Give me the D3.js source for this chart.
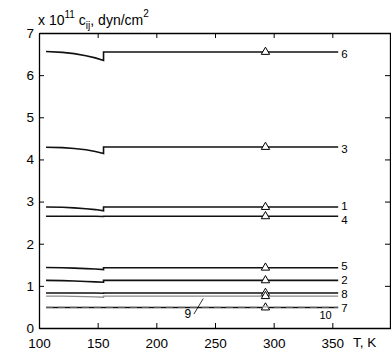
<!DOCTYPE html>
<html>
<head>
<meta charset="utf-8">
<script src="https://cdn.jsdelivr.net/npm/d3@7"></script>
<style>
  body { margin: 0; background: #fff; }
  svg { display: block; font-family: "Liberation Sans", Arial, sans-serif; }
</style>
</head>
<body>
<main></main>
<script>
// temperatures (K) below and above the jump at ~155 K
const tLow = [106, 120, 130, 140, 148, 155];
const tHigh = [155, 355];
const tMark = 293;

// c_ij values, x 10^11 dyn/cm^2
const names = ["6", "3", "1", "4", "5", "2", "8", "9", "7", "10"];
const lowVals = [
  [6.56, 6.54, 6.51, 6.46, 6.41, 6.35],
  [4.29, 4.28, 4.26, 4.23, 4.19, 4.14],
  [2.87, 2.865, 2.85, 2.83, 2.81, 2.78],
  [2.65, 2.65, 2.65, 2.65, 2.65, 2.645],
  [1.435, 1.43, 1.42, 1.41, 1.40, 1.385],
  [1.13, 1.125, 1.115, 1.105, 1.095, 1.085],
  [0.83, 0.83, 0.83, 0.83, 0.83, 0.825],
  [0.755, 0.755, 0.75, 0.745, 0.74, 0.73],
  [0.485, 0.485, 0.485, 0.485, 0.485, 0.485],
  [0.5, 0.5, 0.5, 0.5, 0.5, 0.5]
];
const highVals = [6.55, 4.295, 2.87, 2.65, 1.43, 1.13, 0.83, 0.755, 0.485, 0.5];
const hasMark = [true, true, true, true, true, true, true, true, true, false];
const labelShift = [2, 1.5, -1, 4, -2, -0.5, 0.5, 0, 0.5, 0];

const xTicks = [100, 150, 200, 250, 300, 350];
const yTicks = [0, 1, 2, 3, 4, 5, 6, 7];

const svgSize = { width: 391, height: 353 };
const fontFam = "'Liberation Sans', Arial, sans-serif";

const svg = d3.select("main")
  .append("svg")
  .attr("width", svgSize.width)
  .attr("height", svgSize.height)
  .attr("font-family", fontFam);

const xScale = d3.scaleLinear().domain([100, 400]).range([39, 391]);
const yScale = d3.scaleLinear().domain([0, 7]).range([328, 33]);

// axes, MATLAB style ticks pointing inward
const gx = svg.append("g")
  .attr("transform", "translate(0,328)")
  .call(d3.axisBottom(xScale).tickValues(xTicks).tickSizeInner(-5).tickSizeOuter(0).tickPadding(10));
const gxTop = svg.append("g")
  .attr("transform", "translate(0,33)")
  .call(d3.axisTop(xScale).tickValues(xTicks).tickSizeInner(-5).tickSizeOuter(0).tickFormat(""));
const gy = svg.append("g")
  .attr("transform", "translate(39,0)")
  .call(d3.axisLeft(yScale).tickValues(yTicks).tickSizeInner(-5).tickSizeOuter(0).tickPadding(5).tickFormat(d3.format("d")));
const gyRight = svg.append("g")
  .attr("transform", "translate(390,0)")
  .call(d3.axisRight(yScale).tickValues(yTicks).tickSizeInner(-5).tickSizeOuter(0).tickFormat(""));

[gx, gxTop, gy, gyRight].forEach(g => {
  g.attr("font-family", fontFam);
  g.select(".domain").attr("stroke", "#000").attr("stroke-width", 1.3);
  g.selectAll(".tick line").attr("stroke", "#000");
  g.selectAll("text").attr("font-size", 13.5).attr("fill", "#000");
});
gxTop.selectAll(".tick").filter(d => d === 100).remove();
gyRight.selectAll(".tick").filter(d => d === 0 || d === 7).remove();

// axis titles
svg.append("text")
  .attr("x", 353).attr("y", 347)
  .attr("font-size", 13.5)
  .text("T, K");

const title = svg.append("text").attr("x", 38).attr("y", 25).attr("font-size", 14);
title.append("tspan").text("x 10");
title.append("tspan").attr("font-size", 10).attr("dy", -7).text("11");
title.append("tspan").attr("dy", 7).attr("dx", 4).text("c");
title.append("tspan").attr("font-size", 10).attr("dy", 4).text("ij");
title.append("tspan").attr("dy", -4).text(", dyn/cm");
title.append("tspan").attr("font-size", 10).attr("dy", -8).text("2");

const line = d3.line()
  .x(d => xScale(d[0]))
  .y(d => yScale(d[1]));

names.forEach((name, i) => {
  const low = tLow.map((t, j) => [t, lowVals[i][j]]);
  const high = tHigh.map(t => [t, highVals[i]]);
  const pts = low.concat(high);
  const isGray = name === "9";
  const isDash = name === "10";
  svg.append("path")
    .datum(pts)
    .attr("d", line)
    .attr("fill", "none")
    .attr("stroke", isDash ? "#aaa" : (isGray ? "#8a8a8a" : "#111"))
    .attr("stroke-width", isDash ? 1.2 : (isGray ? 1.3 : 1.6))
    .attr("stroke-dasharray", isDash ? "7,5" : null);

  if (hasMark[i]) {
    svg.append("path")
      .attr("d", d3.symbol(d3.symbolTriangle, 30))
      .attr("transform", `translate(${xScale(tMark)},${yScale(highVals[i])})`)
      .attr("fill", "#fff")
      .attr("stroke", "#000")
      .attr("stroke-width", 1);
  }

  if (!isGray && !isDash) {
    svg.append("text")
      .attr("x", xScale(355) + 3)
      .attr("y", yScale(highVals[i]) + labelShift[i])
      .attr("dy", "0.35em")
      .attr("font-size", 11.5)
      .text(name);
  }
});

// labels 9 and 10 with leader
svg.append("text")
  .attr("x", xScale(224)).attr("y", yScale(0.23))
  .attr("font-size", 12).text("9");
svg.append("line")
  .attr("x1", xScale(232)).attr("y1", yScale(0.33))
  .attr("x2", xScale(240)).attr("y2", yScale(0.7))
  .attr("stroke", "#000").attr("stroke-width", 0.8);
svg.append("text")
  .attr("x", xScale(339)).attr("y", yScale(0.205))
  .attr("font-size", 11).text("10");
</script>
</body>
</html>
